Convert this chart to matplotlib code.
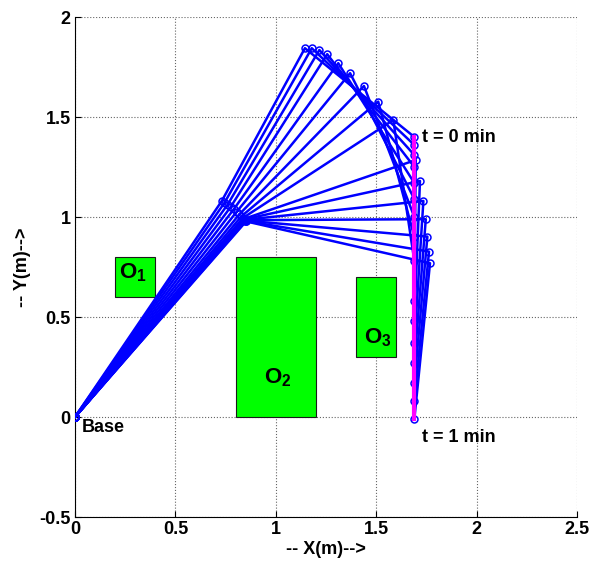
import matplotlib
matplotlib.use("Agg")
import matplotlib.pyplot as plt
from matplotlib.patches import Rectangle

plt.rcParams['font.family'] = ['Liberation Sans', 'DejaVu Sans']
plt.rcParams['font.weight'] = 'bold'
plt.rcParams['axes.labelweight'] = 'bold'
plt.rcParams['mathtext.fontset'] = 'custom'
plt.rcParams['mathtext.rm'] = 'Liberation Sans:bold'
plt.rcParams['mathtext.bf'] = 'Liberation Sans:bold'
plt.rcParams['mathtext.it'] = 'Liberation Sans:bold'

# Arm configuration per time step: base -> joint 1 -> joint 2 -> end effector
joint1_x = [0.731, 0.745, 0.760, 0.775, 0.790, 0.805, 0.818, 0.828, 0.836,
            0.840, 0.842, 0.844, 0.846, 0.848, 0.850, 0.852]
joint1_y = [1.080, 1.072, 1.062, 1.050, 1.038, 1.026, 1.013, 1.003, 0.995,
            0.990, 0.988, 0.986, 0.984, 0.982, 0.980, 0.978]
joint2_x = [1.145, 1.179, 1.217, 1.256, 1.311, 1.370, 1.439, 1.510, 1.585,
            1.697, 1.718, 1.735, 1.747, 1.755, 1.763, 1.768]
joint2_y = [1.844, 1.844, 1.835, 1.814, 1.769, 1.719, 1.655, 1.577, 1.485,
            1.285, 1.180, 1.080, 0.989, 0.902, 0.827, 0.769]
ee_x = [1.69] * 16
ee_y = [1.40, 1.36, 1.31, 1.25, 1.17, 1.09, 1.00, 0.90, 0.78,
        0.58, 0.48, 0.37, 0.27, 0.17, 0.08, -0.01]

# Obstacles: (x, y, width, height) and label
obstacles = [(0.2, 0.6, 0.2, 0.2), (0.8, 0.0, 0.4, 0.8), (1.4, 0.3, 0.2, 0.4)]
obstacle_labels = [r'$\mathrm{O}_{\mathrm{1}}$', r'$\mathrm{O}_{\mathrm{2}}$',
                   r'$\mathrm{O}_{\mathrm{3}}$']
obstacle_label_pos = [(0.29, 0.72), (1.01, 0.195), (1.51, 0.395)]

x_ticks = [0, 0.5, 1, 1.5, 2, 2.5]
x_tick_labels = ['0', '0.5', '1', '1.5', '2', '2.5']
y_ticks = [-0.5, 0, 0.5, 1, 1.5, 2]
y_tick_labels = ['-0.5', '0', '0.5', '1', '1.5', '2']

fig = plt.figure(figsize=(5.92, 5.70), dpi=100)
ax = fig.add_axes([75/592, 53/570, 502/592, 500/570])

for (x, y, w, h), lab, (lx, ly) in zip(obstacles, obstacle_labels, obstacle_label_pos):
    ax.add_patch(Rectangle((x, y), w, h, facecolor='#00ff00', edgecolor='#1a1a1a',
                           linewidth=0.8, zorder=2))
    ax.text(lx, ly, lab, fontsize=16, ha='center', va='center', zorder=3)

for i in range(len(ee_x)):
    ax.plot([0, joint1_x[i], joint2_x[i], ee_x[i]],
            [0, joint1_y[i], joint2_y[i], ee_y[i]],
            color='#0000ff', linewidth=1.8, marker='o', markersize=5,
            markerfacecolor='none', markeredgewidth=1.1, zorder=4)

# End-effector path
ax.plot(ee_x, ee_y, color='#ff00ff', linewidth=3, zorder=5)

ax.text(1.73, 1.40, 't = 0 min', fontsize=13, ha='left', va='center')
ax.text(1.73, -0.10, 't = 1 min', fontsize=13, ha='left', va='center')
ax.text(0.035, -0.055, 'Base', fontsize=13, ha='left', va='center')

ax.set_xlim(0, 2.5)
ax.set_ylim(-0.5, 2)
ax.set_xticks(x_ticks)
ax.set_xticklabels(x_tick_labels)
ax.set_yticks(y_ticks)
ax.set_yticklabels(y_tick_labels)
ax.tick_params(direction='in', length=4, width=0.8, labelsize=13, pad=3)
ax.grid(True, linestyle=':', color='#666666', linewidth=0.8)
ax.set_axisbelow(True)
for side in ('top', 'right'):
    ax.spines[side].set_visible(False)
for side in ('left', 'bottom'):
    ax.spines[side].set_linewidth(0.8)

ax.set_xlabel('-- X(m)-->', fontsize=13, labelpad=2)
ax.set_ylabel('-- Y(m)-->', fontsize=13, labelpad=6)

fig.savefig('out.png', dpi=100)
